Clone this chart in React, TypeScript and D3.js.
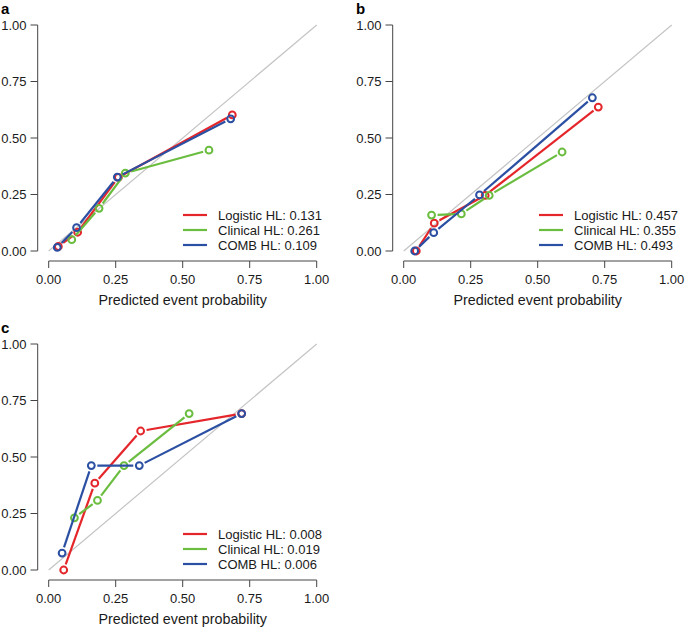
import { useRef, useEffect } from "react";
import * as d3 from "d3";

type Pt = [number, number];

const SERIES_NAMES = ["Logistic", "Clinical", "COMB"];
const COLORS = ["#e4262b", "#6abd3f", "#2b4fa2"];
const TICKS = [0, 0.25, 0.5, 0.75, 1];

const PANEL_LABELS = ["a", "b", "c"];

// Panel a
const A_LOGISTIC: Pt[] = [[0.036, 0.02], [0.108, 0.083], [0.26, 0.326], [0.685, 0.602]];
const A_CLINICAL: Pt[] = [[0.086, 0.05], [0.188, 0.189], [0.286, 0.345], [0.598, 0.446]];
const A_COMB: Pt[] = [[0.032, 0.016], [0.104, 0.103], [0.256, 0.327], [0.679, 0.585]];
const A_HL = ["0.131", "0.261", "0.109"];

// Panel b
const B_LOGISTIC: Pt[] = [[0.047, 0], [0.114, 0.123], [0.304, 0.246], [0.726, 0.637]];
const B_CLINICAL: Pt[] = [[0.104, 0.159], [0.215, 0.164], [0.319, 0.246], [0.591, 0.438]];
const B_COMB: Pt[] = [[0.041, 0], [0.112, 0.081], [0.283, 0.248], [0.704, 0.678]];
const B_HL = ["0.457", "0.355", "0.493"];

// Panel c
const C_LOGISTIC: Pt[] = [[0.056, 0], [0.172, 0.384], [0.343, 0.615], [0.72, 0.692]];
const C_CLINICAL: Pt[] = [[0.096, 0.231], [0.182, 0.308], [0.281, 0.462], [0.524, 0.692]];
const C_COMB: Pt[] = [[0.05, 0.075], [0.159, 0.462], [0.338, 0.462], [0.72, 0.692]];
const C_HL = ["0.008", "0.019", "0.006"];

const PANELS = [
  { series: [A_LOGISTIC, A_CLINICAL, A_COMB], hl: A_HL, ox: 0, oy: 0 },
  { series: [B_LOGISTIC, B_CLINICAL, B_COMB], hl: B_HL, ox: 355, oy: 0 },
  { series: [C_LOGISTIC, C_CLINICAL, C_COMB], hl: C_HL, ox: 0, oy: 319 },
];

const FONT = "'Liberation Sans', Arial, sans-serif";

export default function App() {
  const svgRef = useRef<SVGSVGElement>(null);

  useEffect(() => {
    if (!svgRef.current) return;
    const svg = d3.select(svgRef.current);
    svg.selectAll("*").remove();

    PANELS.forEach((p, pi) => {
      const g = svg.append("g").attr("transform", `translate(${p.ox},${p.oy})`);
      const x = d3.scaleLinear().domain([0, 1]).range([48.7, 316.7]);
      const y = d3.scaleLinear().domain([0, 1]).range([251, 25]);

      // panel label
      g.append("text")
        .attr("x", 1)
        .attr("y", 14)
        .attr("font-family", FONT)
        .attr("font-weight", "bold")
        .attr("font-size", 15)
        .text(PANEL_LABELS[pi]);

      // y axis
      g.append("line")
        .attr("x1", 37.7).attr("x2", 37.7)
        .attr("y1", y(0)).attr("y2", y(1))
        .attr("stroke", "#444").attr("stroke-width", 1);
      TICKS.forEach((t) => {
        g.append("line")
          .attr("x1", 30.5).attr("x2", 37.7)
          .attr("y1", y(t)).attr("y2", y(t))
          .attr("stroke", "#444");
        g.append("text")
          .attr("x", 26.5)
          .attr("y", y(t))
          .attr("dy", "0.35em")
          .attr("text-anchor", "end")
          .attr("font-family", FONT)
          .attr("font-size", 13)
          .attr("fill", "#1a1a1a")
          .text(d3.format(".2f")(t));
      });

      // x axis
      const axY = 261;
      g.append("line")
        .attr("x1", x(0)).attr("x2", x(1))
        .attr("y1", axY).attr("y2", axY)
        .attr("stroke", "#444");
      TICKS.forEach((t) => {
        g.append("line")
          .attr("x1", x(t)).attr("x2", x(t))
          .attr("y1", axY).attr("y2", axY + 7)
          .attr("stroke", "#444");
        g.append("text")
          .attr("x", x(t))
          .attr("y", 279)
          .attr("dy", "0.35em")
          .attr("text-anchor", "middle")
          .attr("font-family", FONT)
          .attr("font-size", 13)
          .attr("fill", "#1a1a1a")
          .text(d3.format(".2f")(t));
      });
      g.append("text")
        .attr("x", (x(0) + x(1)) / 2)
        .attr("y", 300)
        .attr("dy", "0.35em")
        .attr("text-anchor", "middle")
        .attr("font-family", FONT)
        .attr("font-size", 14.3)
        .attr("fill", "#1a1a1a")
        .text("Predicted event probability");

      // reference diagonal
      g.append("line")
        .attr("x1", x(0)).attr("y1", y(0))
        .attr("x2", x(1)).attr("y2", y(1))
        .attr("stroke", "#c4c4c4").attr("stroke-width", 1.2);

      // series: R type="b" style (gaps around points)
      const gap = 6;
      p.series.forEach((pts, si) => {
        const color = COLORS[si];
        for (let i = 0; i < pts.length - 1; i++) {
          const x1 = x(pts[i][0]), y1 = y(pts[i][1]);
          const x2 = x(pts[i + 1][0]), y2 = y(pts[i + 1][1]);
          const len = Math.hypot(x2 - x1, y2 - y1);
          if (len <= gap * 2) continue;
          const ux = (x2 - x1) / len, uy = (y2 - y1) / len;
          g.append("line")
            .attr("x1", x1 + ux * gap).attr("y1", y1 + uy * gap)
            .attr("x2", x2 - ux * gap).attr("y2", y2 - uy * gap)
            .attr("stroke", color).attr("stroke-width", 2.2);
        }
        g.selectAll(null)
          .data(pts)
          .enter()
          .append("circle")
          .attr("cx", (d) => x(d[0]))
          .attr("cy", (d) => y(d[1]))
          .attr("r", 3.4)
          .attr("fill", "none")
          .attr("stroke", color)
          .attr("stroke-width", 2);
      });

      // legend
      const lx = pi === 1 ? 184 : 183;
      const rows = [215, 230, 245];
      SERIES_NAMES.forEach((name, si) => {
        g.append("line")
          .attr("x1", lx).attr("x2", lx + 24)
          .attr("y1", rows[si]).attr("y2", rows[si])
          .attr("stroke", COLORS[si]).attr("stroke-width", 2.2);
        g.append("text")
          .attr("x", lx + 35)
          .attr("y", rows[si])
          .attr("dy", "0.35em")
          .attr("font-family", FONT)
          .attr("font-size", 13)
          .attr("fill", "#1a1a1a")
          .text(`${name} HL: ${p.hl[si]}`);
      });
    });
  }, []);

  return (
    <svg
      ref={svgRef}
      width={685}
      height={628}
      style={{ position: "absolute", left: 0, top: 0, background: "#fff" }}
    />
  );
}
